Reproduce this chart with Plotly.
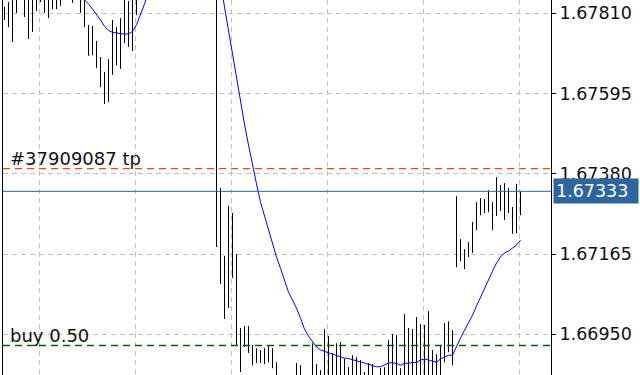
import plotly.graph_objects as go

# ---- data ----
highs = [
    1.67827, 1.67840, 1.67865, 1.67870, 1.67880, 1.67868, 1.67862, 1.67866, 1.67878, 1.67885,
    1.67880, 1.67874, 1.67882, 1.67888, 1.67886, 1.67895, 1.67898, 1.67890, 1.67893, 1.67876,
    1.67862, 1.67779, 1.67776, 1.67736, 1.67693, 1.67653, 1.67687, 1.67792, 1.67773, 1.67797,
    1.67858, 1.67843, 1.67860, 1.67875, 1.67900, 1.67960, 1.68010, 1.68070, 1.68120, 1.68160,
    1.68200, 1.68230, 1.68250, 1.68240, 1.68260, 1.68230, 1.68210, 1.68190, 1.68160, 1.68140,
    1.68120, 1.68100, 1.68090, 1.68080, 1.67342, 1.67160, 1.67294, 1.67275, 1.67165, 1.66967,
    1.66972, 1.66972, 1.66921, 1.66913, 1.66908, 1.66913, 1.66921, 1.66913, 1.66875, 1.66832,
    1.66836, 1.66830, 1.66834, 1.66873, 1.66867, 1.66835, 1.66838, 1.66926, 1.66870, 1.66854,
    1.66964, 1.66945, 1.66900, 1.66926, 1.66929, 1.66884, 1.66862, 1.66894, 1.66889, 1.66881,
    1.66849, 1.66873, 1.66870, 1.66836, 1.66859, 1.66862, 1.66934, 1.66951, 1.66948, 1.66859,
    1.67004, 1.66967, 1.66964, 1.66996, 1.66977, 1.66975, 1.67012, 1.66908, 1.66897, 1.66921,
    1.66980, 1.66985, 1.66961, 1.67320, 1.67205, 1.67178, 1.67197, 1.67251, 1.67304, 1.67315,
    1.67312, 1.67336, 1.67304, 1.67371, 1.67350, 1.67355, 1.67342, 1.67291, 1.67353, 1.67334,
]
lows = [
    1.67792, 1.67773, 1.67733, 1.67811, 1.67850, 1.67800, 1.67741, 1.67760, 1.67816, 1.67840,
    1.67811, 1.67797, 1.67821, 1.67821, 1.67830, 1.67852, 1.67855, 1.67838, 1.67850, 1.67811,
    1.67773, 1.67696, 1.67698, 1.67663, 1.67612, 1.67567, 1.67572, 1.67645, 1.67671, 1.67661,
    1.67730, 1.67720, 1.67709, 1.67805, 1.67850, 1.67870, 1.67920, 1.67980, 1.68030, 1.68080,
    1.68120, 1.68150, 1.68170, 1.68160, 1.68180, 1.68150, 1.68130, 1.68100, 1.68080, 1.68060,
    1.68040, 1.68020, 1.68010, 1.67184, 1.67085, 1.66991, 1.67020, 1.67101, 1.66921, 1.66849,
    1.66916, 1.66900, 1.66867, 1.66873, 1.66873, 1.66870, 1.66875, 1.66859, 1.66815, 1.66790,
    1.66795, 1.66780, 1.66792, 1.66820, 1.66815, 1.66800, 1.66805, 1.66825, 1.66822, 1.66818,
    1.66830, 1.66828, 1.66825, 1.66830, 1.66832, 1.66828, 1.66822, 1.66826, 1.66825, 1.66822,
    1.66818, 1.66820, 1.66821, 1.66800, 1.66815, 1.66818, 1.66830, 1.66835, 1.66832, 1.66815,
    1.66835, 1.66838, 1.66835, 1.66838, 1.66836, 1.66834, 1.66836, 1.66828, 1.66830, 1.66832,
    1.66875, 1.66902, 1.66867, 1.67130, 1.67146, 1.67125, 1.67157, 1.67168, 1.67229, 1.67269,
    1.67275, 1.67277, 1.67229, 1.67267, 1.67280, 1.67256, 1.67275, 1.67219, 1.67221, 1.67269,
]
ma = [
    1.67880, 1.67882, 1.67884, 1.67885, 1.67886, 1.67887, 1.67888, 1.67888, 1.67889, 1.67890,
    1.67890, 1.67889, 1.67888, 1.67887, 1.67885, 1.67882, 1.67878, 1.67873, 1.67867, 1.67860,
    1.67846, 1.67835, 1.67821, 1.67808, 1.67792, 1.67775, 1.67764, 1.67759, 1.67757, 1.67755,
    1.67754, 1.67755, 1.67761, 1.67779, 1.67805, 1.67835, 1.67867, 1.67905, 1.67947, 1.67993,
    1.68033, 1.68073, 1.68108, 1.68140, 1.68162, 1.68179, 1.68183, 1.68179, 1.68162, 1.68135,
    1.68098, 1.68049, 1.67996, 1.67955, 1.67894, 1.67827, 1.67762, 1.67698, 1.67634, 1.67570,
    1.67513, 1.67457, 1.67401, 1.67353, 1.67304, 1.67267, 1.67229, 1.67194, 1.67157, 1.67127,
    1.67093, 1.67063, 1.67042, 1.67020, 1.66993, 1.66964, 1.66945, 1.66929, 1.66916, 1.66908,
    1.66904, 1.66901, 1.66897, 1.66893, 1.66889, 1.66886, 1.66885, 1.66882, 1.66881, 1.66878,
    1.66874, 1.66870, 1.66866, 1.66863, 1.66863, 1.66867, 1.66873, 1.66874, 1.66872, 1.66867,
    1.66872, 1.66873, 1.66874, 1.66875, 1.66881, 1.66884, 1.66881, 1.66878, 1.66875, 1.66884,
    1.66890, 1.66894, 1.66894, 1.66918, 1.66940, 1.66961, 1.66980, 1.67001, 1.67026, 1.67050,
    1.67071, 1.67095, 1.67119, 1.67141, 1.67157, 1.67168, 1.67173, 1.67181, 1.67189, 1.67202,
]
ytick_vals = [1.66950, 1.67165, 1.67380, 1.67595, 1.67810]
ytick_text = ["1.66950", "1.67165", "1.67380", "1.67595", "1.67810"]
tp_level = 1.67394
tp_label = "#37909087 tp"
bid_level = 1.67333
bid_label = "1.67333"
buy_level = 1.66920
buy_label = "buy 0.50"
grid_x = [9.75, 33.75, 57.75, 81.75, 105.75, 129.75]

# ---- build ----
bar_idx = list(range(1, len(highs) + 1))
bx, by = [], []
for i, h, l in zip(bar_idx, highs, lows):
    bx += [i, i, None]
    by += [l, h, None]

FONT = "DejaVu Sans"
fig = go.Figure()
fig.add_trace(go.Scatter(x=bx, y=by, mode="lines", line=dict(color="black", width=1),
                         connectgaps=False, hoverinfo="skip", showlegend=False))
fig.add_trace(go.Scatter(x=bar_idx, y=ma, mode="lines", line=dict(color="#0000FF", width=1),
                         hoverinfo="skip", showlegend=False))

fig.add_shape(type="line", xref="paper", x0=0, x1=1, yref="y", y0=tp_level, y1=tp_level,
              line=dict(color="#FF4500", width=1.3, dash="7px,5px"))
fig.add_shape(type="line", xref="paper", x0=0, x1=1, yref="y", y0=bid_level, y1=bid_level,
              line=dict(color="#2F649E", width=1))
fig.add_shape(type="line", xref="paper", x0=0, x1=1, yref="y", y0=buy_level, y1=buy_level,
              line=dict(color="#006400", width=1.3, dash="7px,5px"))

fig.add_annotation(x=0, xref="paper", xanchor="left", xshift=5, y=tp_level, yref="y",
                   yanchor="bottom", yshift=-2, text=tp_label, showarrow=False,
                   font=dict(family=FONT, size=18, color="#111111"))
fig.add_annotation(x=0, xref="paper", xanchor="left", xshift=5, y=buy_level, yref="y",
                   yanchor="bottom", yshift=-2, text=buy_label, showarrow=False,
                   font=dict(family=FONT, size=18, color="#111111"))
fig.add_annotation(x=1, xref="paper", xanchor="left", xshift=2, y=bid_level, yref="y",
                   yanchor="middle", text=bid_label, showarrow=False, bgcolor="#2F649E",
                   width=80, height=20, align="left", borderpad=2,
                   font=dict(family=FONT, size=17.5, color="white"))

fig.update_layout(
    width=640, height=375,
    margin=dict(l=3, r=89, t=0, b=0),
    paper_bgcolor="white", plot_bgcolor="white",
    showlegend=False,
    xaxis=dict(range=[0.625, 137.625], tickvals=grid_x, showticklabels=False, ticks="",
               showgrid=True, gridcolor="#C0C0C0", gridwidth=1, griddash="5px,4px",
               zeroline=False, showline=False, fixedrange=True),
    yaxis=dict(range=[1.668410, 1.678456], side="right", tickvals=ytick_vals, ticktext=ytick_text,
               showgrid=True, gridcolor="#C0C0C0", gridwidth=1, griddash="5px,4px",
               zeroline=False, showline=True, linecolor="black", linewidth=1, mirror=True,
               ticks="outside", ticklen=4, tickcolor="black", tickwidth=1,
               tickfont=dict(family=FONT, size=17.5, color="#111111"), fixedrange=True),
)

fig.write_html("out.html")
